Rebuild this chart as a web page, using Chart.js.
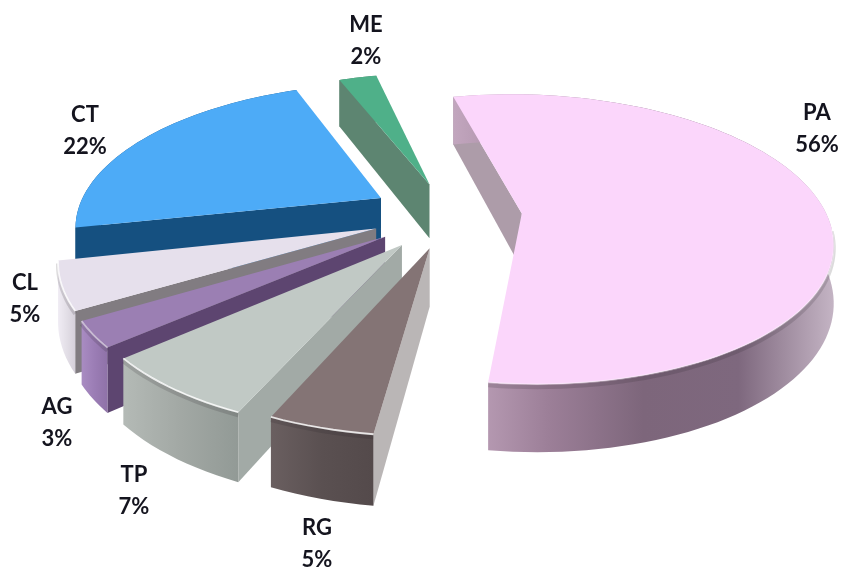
<!DOCTYPE html>
<html>
<head>
<meta charset="utf-8">
<style>
  html, body { margin: 0; padding: 0; background: #fff; }
  canvas { display: block; }
</style>
<script src="https://cdn.jsdelivr.net/npm/chart.js@4/dist/chart.umd.min.js"></script>
</head>
<body>
<canvas id="chart-pie" width="843" height="569"></canvas>
<script>
// ─── DATA ────────────────────────────────────────────────────
const categories = ['PA', 'RG', 'TP', 'AG', 'CL', 'CT', 'ME'];
// the labels show them rounded
const shares = [55.7, 4.5, 7, 2.8, 5.2, 22.4, 2.4];

// ─── STYLE ───────────────────────────────────────────────────
const explode = [72, 72, 78, 78, 78, 80, 72];
const topColors = ['#fbd6fb', '#847475', '#c1c9c5', '#9b7fb3', '#e6e0ec', '#4dabf7', '#4fb089'];
const cutColors = ['#ad9ca9', '#bab6b6', '#a2aaa6', '#5d4570', '#817c81', '#155080', '#5d8571'];
const rimColors = [
  ['#c2a6be', '#9c7f98', '#7d667b', '#7e687e', '#c4b4c4'],
  ['#6a5f60', '#5a5051', '#544a4b'],
  ['#b4bab6', '#a2a8a4', '#929a96'],
  ['#a98cc2', '#9b7db5', '#8f72a8'],
  ['#f0ecf4', '#e3dfe7', '#d5d0da'],
  ['#155080', '#155080'],
  ['#5d8571', '#5d8571'],
];
const rimGlow = [0.3, 0.8, 0.8, 0.5, 0.8, 0, 0];
const labelX = [817, 317, 134, 57, 25, 85, 366];
const labelY = [113, 528, 475, 407, 283, 115, 25];

const radiusX = 305;
const squash = 0.462;
const perspective = 0.178;
const depth = 56;

// ─── 3D PIE PLUGIN ───────────────────────────────────────────
// maps a point of the flat pie (in radius units) to the screen
function project(arc, X, Y) {
  const s = 1 / (1 - perspective * Y);
  return {
    x: arc.x + radiusX * X * s,
    y: arc.y + radiusX * squash * Y * s,
    drop: depth * s,
  };
}

function fillPath(ctx, pts, color) {
  ctx.beginPath();
  pts.forEach((p, i) => (i ? ctx.lineTo(p.x, p.y) : ctx.moveTo(p.x, p.y)));
  ctx.closePath();
  ctx.fillStyle = color;
  ctx.fill();
}

function strokeNear(ctx, edge, angles, dy, color, width) {
  ctx.beginPath();
  let started = false;
  edge.forEach((p, k) => {
    if (Math.sin(angles[k]) < 0.1) return;
    if (started) ctx.lineTo(p.x, p.y + dy); else ctx.moveTo(p.x, p.y + dy);
    started = true;
  });
  ctx.strokeStyle = color;
  ctx.lineWidth = width;
  ctx.stroke();
}

function drawSlice(ctx, arc, i) {
  const mid = (arc.startAngle + arc.endAngle) / 2;
  const off = arc.options.offset / arc.outerRadius;
  const ox = off * Math.cos(mid), oy = off * Math.sin(mid);
  const apex = project(arc, ox, oy);
  const steps = Math.max(8, Math.round((arc.endAngle - arc.startAngle) * 30));
  const angles = [];
  const edge = [];
  for (let k = 0; k <= steps; k++) {
    const a = arc.startAngle + (arc.endAngle - arc.startAngle) * k / steps;
    angles.push(a);
    edge.push(project(arc, ox + Math.cos(a), oy + Math.sin(a)));
  }
  const lower = p => ({ x: p.x, y: p.y + p.drop });

  // wall along the cut edge
  fillPath(ctx, [apex, edge[0], lower(edge[0]), lower(apex)], cutColors[i]);

  // wall along the outer rim
  const xs = edge.map(p => p.x);
  const x0 = Math.min(...xs), x1 = Math.max(...xs);
  const grad = ctx.createLinearGradient(x0, 0, x1, 0);
  rimColors[i].forEach((c, k, all) => grad.addColorStop(k / (all.length - 1), c));
  fillPath(ctx, edge.concat(edge.map(lower).reverse()), grad);
  if (rimGlow[i]) strokeNear(ctx, edge, angles, 3, 'rgba(40,30,40,0.16)', 4);

  // top face
  fillPath(ctx, [apex].concat(edge), arc.options.backgroundColor);

  // soft highlight on the near part of the rim
  if (rimGlow[i]) strokeNear(ctx, edge, angles, 0, `rgba(255,255,255,${rimGlow[i]})`, 1.8);
}

const pie3d = {
  id: 'pie3d',
  beforeDatasetDraw(chart, args) {
    const ctx = chart.ctx;
    const arcs = args.meta.data;
    ctx.save();
    // far slices first, PA comes last
    for (let i = arcs.length - 1; i >= 0; i--) drawSlice(ctx, arcs[i], i);
    ctx.restore();
    return false;
  },
  afterDraw(chart) {
    const ctx = chart.ctx;
    ctx.save();
    ctx.font = "bold 22px Lato, 'Open Sans', sans-serif";
    ctx.fillStyle = '#14141e';
    ctx.textAlign = 'center';
    ctx.textBaseline = 'middle';
    categories.forEach((name, i) => {
      ctx.fillText(name, labelX[i], labelY[i]);
      ctx.fillText(Math.round(shares[i]) + '%', labelX[i], labelY[i] + 32);
    });
    ctx.restore();
  },
};

// ─── CHART ───────────────────────────────────────────────────
new Chart(document.getElementById('chart-pie'), {
  type: 'pie',
  data: {
    labels: categories,
    datasets: [{
      data: shares,
      backgroundColor: topColors,
      offset: explode,
      borderWidth: 0,
    }],
  },
  options: {
    responsive: false,
    animation: false,
    rotation: -12.9,
    radius: radiusX,
    layout: { padding: { left: 57, right: 0, top: 0, bottom: 139 } },
    plugins: { legend: { display: false }, tooltip: { enabled: false } },
  },
  plugins: [pie3d],
});
</script>
</body>
</html>
